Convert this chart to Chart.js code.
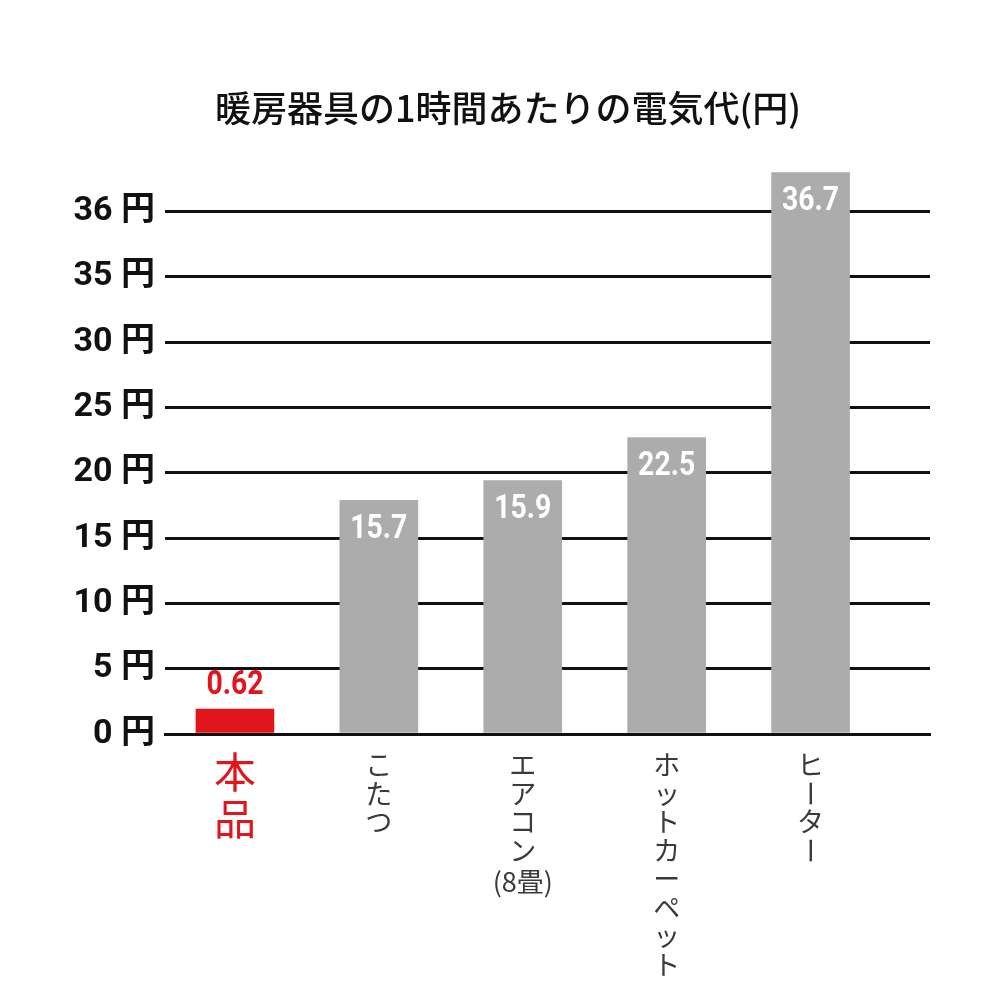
<!DOCTYPE html>
<html lang="ja">
<head>
<meta charset="utf-8">
<script src="https://cdn.jsdelivr.net/npm/chart.js@4.4.1/dist/chart.umd.min.js"></script>
<style>
    html, body { margin: 0; padding: 0; background: #ffffff; }
    #wrap { width: 1000px; height: 1000px; }
</style>
</head>
<body>
<div id="wrap"><canvas id="costChart" width="1000" height="1000"></canvas></div>
<script>
/* ============================
   Data
============================ */
const chartTitle = '暖房器具の1時間あたりの電気代(円)';
const categories = ['本品', 'こたつ', 'エアコン(8畳)', 'ホットカーペット', 'ヒーター'];
// bar heights as drawn, read against the axis ticks (円)
const barValues = [1.9, 17.9, 19.4, 22.7, 36.6];
// values printed on the bars
const valueLabels = ['0.62', '15.7', '15.9', '22.5', '36.7'];
// axis ticks (evenly spaced in the picture)
const tickValues = [0, 5, 10, 15, 20, 25, 30, 35, 36];

/* ============================
   Colors / fonts
============================ */
const RED = '#e1161d';
const GRAY = '#acacac';
const NUM_FONT = "'Liberation Sans Narrow', 'Roboto', 'Noto Sans CJK JP', sans-serif";
const JP_FONT = "'Noto Sans CJK JP', sans-serif";

// map a yen value onto the evenly spaced tick positions
function toAxis(v) {
    const n = tickValues.length;
    for (let i = 1; i < n; i++) {
        if (v <= tickValues[i] || i === n - 1) {
            return (i - 1) + (v - tickValues[i - 1]) / (tickValues[i] - tickValues[i - 1]);
        }
    }
    return 0;
}

/* ============================
   Plugins
============================ */
// title, centred like the original (slightly right of the canvas centre)
const titleText = {
    id: 'titleText',
    beforeDraw(chart) {
        const ctx = chart.ctx;
        ctx.save();
        ctx.font = '500 36px ' + JP_FONT;
        ctx.fillStyle = '#111111';
        ctx.textAlign = 'center';
        ctx.textBaseline = 'middle';
        ctx.fillText(chartTitle, 508, 108);
        ctx.restore();
    }
};

const barLabels = {
    id: 'barLabels',
    afterDatasetsDraw(chart) {
        const ctx = chart.ctx;
        const meta = chart.getDatasetMeta(0);
        ctx.save();
        ctx.font = 'bold 33px ' + NUM_FONT;
        ctx.textAlign = 'center';
        ctx.textBaseline = 'middle';
        meta.data.forEach((bar, i) => {
            const y = i === 0 ? bar.y - 23 : bar.y + 29;
            ctx.fillStyle = i === 0 ? RED : '#ffffff';
            // narrow the digits a little, like the condensed face of the original
            ctx.save();
            ctx.translate(bar.x, y);
            ctx.scale(0.86, 1);
            ctx.fillText(valueLabels[i], 0, 0);
            ctx.restore();
        });
        ctx.restore();
    }
};

// vertical (tategaki) category labels under the bars
const verticalLabels = {
    id: 'verticalLabels',
    afterDraw(chart, args, opts) {
        const ctx = chart.ctx;
        const xScale = chart.scales.x;
        ctx.save();
        ctx.textAlign = 'center';
        ctx.textBaseline = 'middle';
        categories.forEach((label, i) => {
            const x = xScale.getPixelForValue(i);
            const first = i === 0;
            const size = first ? 42 : 27;
            const step = first ? 47 : 28.5;
            let y = first ? 772 : 765;
            ctx.fillStyle = first ? RED : '#3a3a3a';
            const parts = label.match(/\(.*?\)|./g);
            parts.forEach(ch => {
                ctx.font = size + 'px ' + JP_FONT;
                if (ch.length > 1) {
                    // horizontal note like (8畳)
                    y += 3;
                    ctx.fillText(ch, x, y);
                } else if (ch === 'ー' && opts.rotateDash.includes(i)) {
                    ctx.save();
                    ctx.translate(x, y);
                    ctx.rotate(Math.PI / 2);
                    ctx.fillText(ch, 0, 0);
                    ctx.restore();
                } else {
                    ctx.fillText(ch, x, y);
                }
                y += step;
            });
        });
        ctx.restore();
    }
};

/* ============================
   Chart
============================ */
const costChartContext = document.getElementById('costChart').getContext('2d');

new Chart(costChartContext, {
    type: 'bar',
    data: {
        datasets: [{
            data: barValues.map((v, i) => ({ x: i, y: toAxis(v) })),
            backgroundColor: ctx => ctx.dataIndex === 0 ? RED : GRAY,
            borderWidth: 0,
            barThickness: 78
        }]
    },
    plugins: [titleText, barLabels, verticalLabels],
    options: {
        responsive: false,
        animation: false,
        layout: {
            padding: { left: 0, right: 70, top: 166, bottom: 266 }
        },
        scales: {
            x: {
                type: 'linear',
                offset: false,
                min: -0.486,
                max: 4.83,
                z: 1,
                grid: { display: false },
                ticks: { display: false },
                border: { display: true, color: '#111111', width: 3 },
                afterFit: scale => { scale.height = 0; }
            },
            y: {
                type: 'linear',
                min: 0,
                max: 8.7,
                afterFit: scale => { scale.width = 165; },
                afterBuildTicks: scale => {
                    scale.ticks = tickValues.map((v, i) => ({ value: i }));
                },
                grid: {
                    color: '#111111',
                    lineWidth: 3,
                    drawTicks: false
                },
                border: { display: false },
                ticks: {
                    padding: 10,
                    color: '#111111',
                    font: { family: NUM_FONT, size: 34, weight: 'bold' },
                    callback: value => tickValues[value] + ' 円'
                }
            }
        },
        plugins: {
            legend: { display: false },
            tooltip: { enabled: false },
            title: { display: false },
            verticalLabels: { rotateDash: [4] }
        }
    }
});
</script>
</body>
</html>
